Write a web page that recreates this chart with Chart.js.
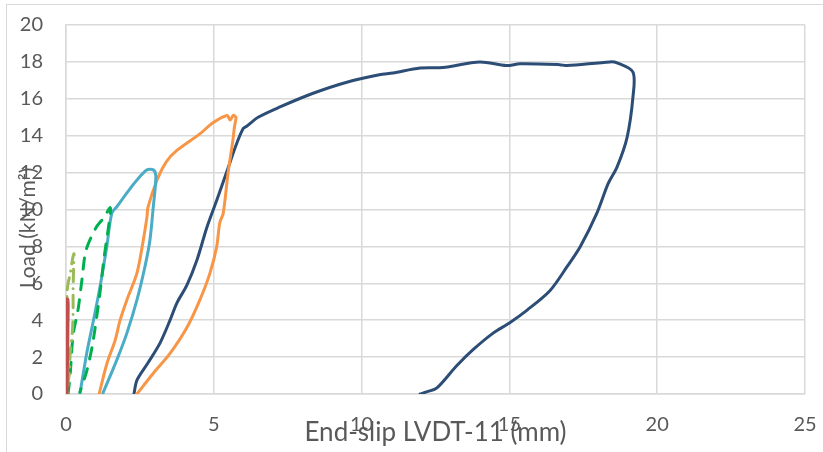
<!DOCTYPE html>
<html>
<head>
<meta charset="utf-8">
<script src="https://cdn.jsdelivr.net/npm/chart.js@4/dist/chart.umd.min.js"></script>
<style>
  html, body { margin: 0; padding: 0; background: #ffffff; }
  #wrap { width: 823px; height: 452px; position: relative; }
</style>
</head>
<body>
<div id="wrap"><canvas id="c" width="823" height="452"></canvas></div>
<script>
// ---- Data ----
const xTitle = "End-slip LVDT-11 (mm)";
const yTitle = "Load (kN/m²)";

const darkBlueX = [2.30, 2.40, 2.77, 3.18, 3.52, 3.75, 4.09, 4.43, 4.77, 5.10, 5.45, 5.78, 6.00, 6.10, 6.50, 7.24, 8.36, 9.50, 10.60, 11.06, 11.98, 12.75, 14.00, 14.90, 15.36, 16.70, 16.95, 18.40, 18.64, 19.18, 19.18, 18.98, 18.64, 18.34, 17.96, 17.40, 16.95, 16.37, 15.60, 15.00, 14.45, 13.77, 13.20, 12.55, 12.20, 11.98];
const darkBlueY = [0, 0.75, 1.68, 2.76, 4.0, 4.93, 5.9, 7.26, 9.05, 10.5, 12.1, 13.6, 14.4, 14.5, 15.0, 15.56, 16.3, 16.9, 17.3, 17.4, 17.67, 17.7, 18.0, 17.8, 17.9, 17.85, 17.8, 18.0, 17.95, 17.45, 16.1, 13.9, 12.3, 11.4, 9.8, 8.0, 6.9, 5.6, 4.55, 3.85, 3.3, 2.4, 1.5, 0.33, 0.12, 0];

const orangeX = [1.12, 1.39, 1.66, 1.83, 2.06, 2.40, 2.60, 2.74, 2.77, 3.08, 3.40, 3.75, 4.53, 4.97, 5.45, 5.55, 5.66, 5.75, 5.70, 5.65, 5.48, 5.32, 5.20, 5.10, 4.87, 4.53, 4.09, 3.52, 2.94, 2.40];
const orangeY = [0, 1.68, 2.9, 4.0, 5.1, 6.55, 8.2, 9.6, 10.1, 11.6, 12.6, 13.2, 14.1, 14.7, 15.1, 14.85, 15.1, 15.0, 14.5, 13.8, 11.95, 9.8, 9.27, 8.0, 6.55, 5.1, 3.6, 2.2, 1.1, 0];

const lightBlueX = [0.47, 0.70, 0.93, 1.15, 1.38, 1.55, 1.72, 2.06, 2.40, 2.74, 2.95, 3.04, 2.95, 2.84, 2.67, 2.40, 2.06, 1.72, 1.25];
const lightBlueY = [0, 2.2, 4.0, 5.8, 8.0, 9.8, 10.15, 10.9, 11.6, 12.15, 12.15, 11.8, 10.1, 8.35, 6.9, 5.1, 3.3, 1.85, 0.05];

const greenX = [0.07, 0.14, 0.24, 0.41, 0.54, 0.68, 1.01, 1.30, 1.49, 1.50, 1.29, 1.15, 0.91, 0.71, 0.47];
const greenY = [0, 1.03, 3.2, 4.6, 6.2, 7.8, 9.0, 9.6, 10.1, 9.8, 7.4, 5.5, 2.8, 1.3, 0.1];

const lightGreenX = [0.02, 0.03, 0.03, 0.04, 0.07, 0.14, 0.22, 0.27, 0.26, 0.24, 0.24, 0.22, 0.18, 0.14, 0.12, 0.07, 0.04];
const lightGreenY = [0, 1.5, 3.0, 5.5, 6.0, 6.5, 7.3, 7.6, 7.0, 5.6, 4.4, 3.5, 2.8, 2.2, 1.2, 0.6, 0];

const redX = [0.00, 0.01, 0.02, 0.03, 0.02, 0.03, 0.04, 0.03, 0.02, 0.01, 0.00];
const redY = [0, 1, 2, 3.5, 4.5, 5.1, 4.8, 3.5, 2, 1, 0];

const xTicks = [0, 5, 10, 15, 20, 25];
const yTicks = [0, 2, 4, 6, 8, 10, 12, 14, 16, 18, 20];

// ---- Build ----
function pts(xs, ys) { return xs.map((x, i) => ({ x: x, y: ys[i] })); }

const FONT = "Lato, 'Open Sans', sans-serif";
const TXT = '#595959';

const decor = {
  id: 'decor',
  beforeDraw(chart) {
    const ctx = chart.ctx;
    ctx.save();
    ctx.strokeStyle = '#d9d9d9';
    ctx.lineWidth = 1;
    ctx.strokeRect(6.5, 4.5, 900, 600);
    ctx.restore();
  },
  afterDraw(chart) {
    const ctx = chart.ctx, a = chart.chartArea;
    ctx.save();
    ctx.fillStyle = TXT;
    ctx.textAlign = 'center';
    ctx.textBaseline = 'middle';
    ctx.font = "26px " + FONT;
    ctx.fillText(xTitle, (a.left + a.right) / 2, a.bottom + 39);
    ctx.font = "21px " + FONT;
    ctx.translate(28, chart.height / 2 + 2);
    ctx.rotate(-Math.PI / 2);
    ctx.fillText(yTitle, 0, 0);
    ctx.restore();
  }
};

const common = { showLine: true, pointRadius: 0, borderWidth: 3, fill: false, tension: 0.3, borderJoinStyle: 'round', borderCapStyle: 'round' };

new Chart(document.getElementById('c'), {
  type: 'scatter',
  data: {
    datasets: [
      Object.assign({ label: 'S6', data: pts(redX, redY), borderColor: '#C0504D' }, common, { borderWidth: 5 }),
      Object.assign({ label: 'S5', data: pts(lightGreenX, lightGreenY), borderColor: '#9BBB59', borderDash: [12, 7, 0.1, 7] }, common),
      Object.assign({ label: 'S4', data: pts(greenX, greenY), borderColor: '#00B050', borderDash: [11, 10] }, common),
      Object.assign({ label: 'S3', data: pts(lightBlueX, lightBlueY), borderColor: '#4BACC6' }, common),
      Object.assign({ label: 'S2', data: pts(orangeX, orangeY), borderColor: '#F79646' }, common),
      Object.assign({ label: 'S1', data: pts(darkBlueX, darkBlueY), borderColor: '#2C4D75' }, common)
    ]
  },
  options: {
    responsive: false,
    animation: false,
    layout: { padding: { left: 0, top: 25, right: 18, bottom: 0 } },
    plugins: { legend: { display: false }, tooltip: { enabled: false } },
    scales: {
      x: {
        type: 'linear', min: 0, max: 25,
        afterFit(s) { s.height = 58; s.paddingLeft = 0; s.paddingRight = 0; },
        afterBuildTicks(s) { s.ticks = xTicks.map(v => ({ value: v })); },
        grid: { color: '#d9d9d9', lineWidth: 1.5, drawTicks: false },
        border: { color: '#d9d9d9', width: 1.5 },
        ticks: { color: TXT, font: { family: FONT, size: 20 }, padding: 19, maxRotation: 0 }
      },
      y: {
        type: 'linear', min: 0, max: 20,
        afterFit(s) { s.width = 66; s.paddingTop = 0; s.paddingBottom = 0; },
        afterBuildTicks(s) { s.ticks = yTicks.map(v => ({ value: v })); },
        grid: { color: '#d9d9d9', lineWidth: 1.5, drawTicks: false },
        border: { color: '#d9d9d9', width: 1.5 },
        ticks: { color: TXT, font: { family: FONT, size: 20 }, padding: 23 }
      }
    }
  },
  plugins: [decor]
});
</script>
</body>
</html>
